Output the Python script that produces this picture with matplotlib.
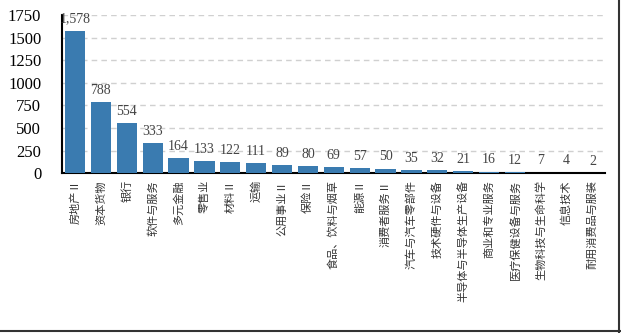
import matplotlib.pyplot as plt
from matplotlib.lines import Line2D

plt.rcParams["font.family"] = ["Noto Sans CJK SC", "DejaVu Sans"]

categories = [
    "房地产Ⅱ", "资本货物", "银行", "软件与服务", "多元金融", "零售业", "材料Ⅱ",
    "运输", "公用事业Ⅱ", "保险Ⅱ", "食品、饮料与烟草", "能源Ⅱ", "消费者服务Ⅱ",
    "汽车与汽车零部件", "技术硬件与设备", "半导体与半导体生产设备", "商业和专业服务",
    "医疗保健设备与服务", "生物科技与生命科学", "信息技术", "耐用消费品与服装",
]
values = [1578, 788, 554, 333, 164, 133, 122, 111, 89, 80, 69, 57, 50, 35, 32, 21, 16, 12, 7, 4, 2]
yticks = [0, 250, 500, 750, 1000, 1250, 1500, 1750]

fig = plt.figure(figsize=(6.21, 3.33), dpi=100)
ax = fig.add_axes([0.100, 0.480, 0.875, 0.475])

x = list(range(len(values)))
ax.bar(x, values, width=0.78, color="#3a7bb0", zorder=3)

for xi, v in zip(x, values):
    ax.text(xi, v + 60, f"{v:,}", ha="center", va="bottom", fontsize=10,
            family="Liberation Serif", color="#444444", zorder=4)

ax.set_ylim(0, 1750)
ax.set_xlim(-0.5, len(values) - 0.5)
ax.set_yticks(yticks)
ax.set_yticklabels([str(t) for t in yticks], family="Liberation Serif", fontsize=12)
ax.tick_params(axis="y", length=0, pad=15)
ax.set_xticks(x)
ax.set_xticklabels(categories, rotation=90, fontsize=8, va="top", ha="center", color="#333333")
ax.tick_params(axis="x", length=0, pad=5)

for t in yticks[1:]:
    ax.axhline(t, color="#d0d0d0", lw=1, ls=(0, (4, 3)), zorder=1)

for s in ["top", "right"]:
    ax.spines[s].set_visible(False)
ax.spines["left"].set_linewidth(1.5)
ax.spines["bottom"].set_linewidth(1.5)

# outer frame lines visible at right and bottom edges
fig.add_artist(Line2D([0.997, 0.997], [0.0, 1.0], color="#333333", lw=1.5, transform=fig.transFigure))
fig.add_artist(Line2D([0.0, 1.0], [0.006, 0.006], color="#333333", lw=1.5, transform=fig.transFigure))

fig.savefig("out.png", dpi=100)
